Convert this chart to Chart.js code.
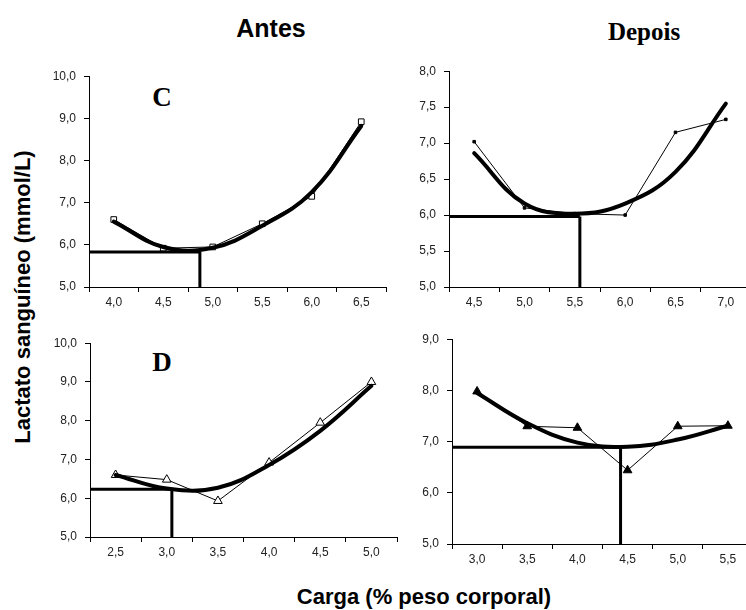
<!DOCTYPE html>
<html><head><meta charset="utf-8">
<script src="https://cdn.jsdelivr.net/npm/chart.js@4.4.1/dist/chart.umd.min.js"></script>
<style>
html,body{margin:0;padding:0;overflow:hidden;background:#fff;width:746px;height:610px}
.panel{position:absolute}
.txt{position:absolute;white-space:nowrap;color:#000;line-height:1;transform:translate(-50%,-50%)}
</style></head><body>
<div class="txt" style="left:271px;top:28px;font:bold 25px 'Liberation Sans',Arial,sans-serif">Antes</div>
<div class="txt" style="left:644px;top:32px;font:bold 25px 'Liberation Serif','Times New Roman',serif">Depois</div>
<div class="txt" style="left:162px;top:97px;font:bold 27px 'Liberation Serif','Times New Roman',serif">C</div>
<div class="txt" style="left:162px;top:362px;font:bold 27px 'Liberation Serif','Times New Roman',serif">D</div>
<div class="txt" style="left:23px;top:297px;transform:translate(-50%,-50%) rotate(-90deg);font:bold 22px 'Liberation Sans',Arial,sans-serif">Lactato sanguíneo (mmol/L)</div>
<div class="txt" style="left:424px;top:597px;font:bold 22px 'Liberation Sans',Arial,sans-serif">Carga (% peso corporal)</div>

<div class="panel" style="left:39px;top:61px"><canvas id="c1" width="352" height="256"></canvas></div>
<div class="panel" style="left:40px;top:328px"><canvas id="c2" width="363" height="239"></canvas></div>
<div class="panel" style="left:399px;top:56px"><canvas id="c3" width="357" height="261"></canvas></div>
<div class="panel" style="left:402px;top:324px"><canvas id="c4" width="357" height="250"></canvas></div>

<script>
// ---- Antes, C ----
const antesC_x = [4.0, 4.5, 5.0, 5.5, 6.0, 6.5];
const antesC_xLabels = ['4,0', '4,5', '5,0', '5,5', '6,0', '6,5'];
const antesC_raw = [6.6, 5.92, 5.95, 6.5, 7.15, 8.92];
const antesC_fit = [6.55, 5.95, 5.93, 6.45, 7.25, 8.82];
const antesC_min = [4.87, 5.83];
const antesC_yTicks = [5, 6, 7, 8, 9, 10];
const antesC_yLabels = ['5,0', '6,0', '7,0', '8,0', '9,0', '10,0'];

// ---- Antes, D ----
const antesD_x = [2.5, 3.0, 3.5, 4.0, 4.5, 5.0];
const antesD_xLabels = ['2,5', '3,0', '3,5', '4,0', '4,5', '5,0'];
const antesD_raw = [6.6, 6.48, 5.93, 6.92, 7.95, 9.0];
const antesD_fit = [6.6, 6.25, 6.27, 6.86, 7.74, 8.9];
const antesD_min = [3.05, 6.23];
const antesD_yTicks = [5, 6, 7, 8, 9, 10];
const antesD_yLabels = ['5,0', '6,0', '7,0', '8,0', '9,0', '10,0'];

// ---- Depois, C ----
const depoisC_x = [4.5, 5.0, 5.5, 6.0, 6.5, 7.0];
const depoisC_xLabels = ['4,5', '5,0', '5,5', '6,0', '6,5', '7,0'];
const depoisC_raw = [7.02, 6.1, 6.02, 6.0, 7.15, 7.33];
const depoisC_fit = [6.86, 6.16, 6.02, 6.16, 6.6, 7.55];
const depoisC_min = [5.55, 5.98];
const depoisC_yTicks = [5, 5.5, 6, 6.5, 7, 7.5, 8];
const depoisC_yLabels = ['5,0', '5,5', '6,0', '6,5', '7,0', '7,5', '8,0'];

// ---- Depois, D ----
const depoisD_x = [3.0, 3.5, 4.0, 4.5, 5.0, 5.5];
const depoisD_xLabels = ['3,0', '3,5', '4,0', '4,5', '5,0', '5,5'];
const depoisD_raw = [7.98, 7.3, 7.27, 6.44, 7.3, 7.31];
const depoisD_fit = [7.95, 7.36, 6.98, 6.9, 7.04, 7.31];
const depoisD_min = [4.43, 6.89];
const depoisD_yTicks = [5, 6, 7, 8, 9];
const depoisD_yLabels = ['5,0', '6,0', '7,0', '8,0', '9,0'];

const tickFont = {family: "'Liberation Sans', Arial, sans-serif", size: 12};

function pts(xs, ys) { return xs.map((x, i) => ({x: x, y: ys[i]})); }

function makeChart(id, xs, xLabels, raw, fit, mn, yTicks, yLabels, marker) {
  const half = (xs[1] - xs[0]) / 2;
  const xmin = xs[0] - half, xmax = xs[xs.length - 1] + half;
  const ymin = yTicks[0], ymax = yTicks[yTicks.length - 1];
  const rawDs = {
    data: pts(xs, raw), borderColor: '#000', borderWidth: 1, tension: 0,
    pointStyle: marker.style, pointRadius: marker.r, pointBorderWidth: 1,
    pointBackgroundColor: marker.fill, pointBorderColor: '#000'
  };
  const fitDs = {
    data: pts(xs, fit), borderColor: '#000', borderWidth: 4, tension: 0.4,
    pointRadius: 0, borderCapStyle: 'round'
  };
  const hLine = {data: [{x: xmin, y: mn[1]}, {x: mn[0], y: mn[1]}], borderColor: '#000', borderWidth: 3, pointRadius: 0, tension: 0};
  const vLine = {data: [{x: mn[0], y: ymin}, {x: mn[0], y: mn[1]}], borderColor: '#000', borderWidth: 3, pointRadius: 0, tension: 0};
  return new Chart(document.getElementById(id), {
    type: 'line',
    data: {datasets: [fitDs, hLine, vLine, rawDs]},
    options: {
      responsive: false, animation: false, devicePixelRatio: 1,
      layout: {padding: {top: 10, right: 4, left: 0, bottom: 0}},
      plugins: {legend: {display: false}, tooltip: {enabled: false}},
      scales: {
        x: {
          type: 'linear', min: xmin, max: xmax,
          afterBuildTicks: s => {
            const t = [];
            xs.forEach(v => { t.push({value: v - half}); t.push({value: v}); });
            t.push({value: xmax});
            s.ticks = t;
          },
          afterFit: s => { s.height = 30; },
          ticks: {
            autoSkip: false, maxRotation: 0, minRotation: 0, padding: 3, color: '#222', font: tickFont,
            callback: (v, i) => (i % 2 === 1 ? xLabels[(i - 1) / 2] : '')
          },
          grid: {drawOnChartArea: false, drawTicks: true, tickLength: 5, lineWidth: 1,
                 color: c => (c.index % 2 === 0 ? '#000' : 'rgba(0,0,0,0)')},
          border: {display: true, color: '#000', width: 1}
        },
        y: {
          type: 'linear', min: ymin, max: ymax,
          afterBuildTicks: s => { s.ticks = yTicks.map(v => ({value: v})); },
          afterFit: s => { s.width = 50; },
          ticks: {autoSkip: false, padding: 8, color: '#222', font: tickFont,
                  callback: (v, i) => yLabels[i]},
          grid: {drawOnChartArea: false, drawTicks: true, tickLength: 5, color: '#000', lineWidth: 1},
          border: {display: true, color: '#000', width: 1}
        }
      }
    }
  });
}

makeChart('c1', antesC_x, antesC_xLabels, antesC_raw, antesC_fit, antesC_min, antesC_yTicks, antesC_yLabels,
  {style: 'rect', r: 4, fill: '#fff'});
makeChart('c2', antesD_x, antesD_xLabels, antesD_raw, antesD_fit, antesD_min, antesD_yTicks, antesD_yLabels,
  {style: 'triangle', r: 5, fill: '#fff'});
makeChart('c3', depoisC_x, depoisC_xLabels, depoisC_raw, depoisC_fit, depoisC_min, depoisC_yTicks, depoisC_yLabels,
  {style: 'rect', r: 1.8, fill: '#000'});
makeChart('c4', depoisD_x, depoisD_xLabels, depoisD_raw, depoisD_fit, depoisD_min, depoisD_yTicks, depoisD_yLabels,
  {style: 'triangle', r: 5, fill: '#000'});
</script>
</body></html>
